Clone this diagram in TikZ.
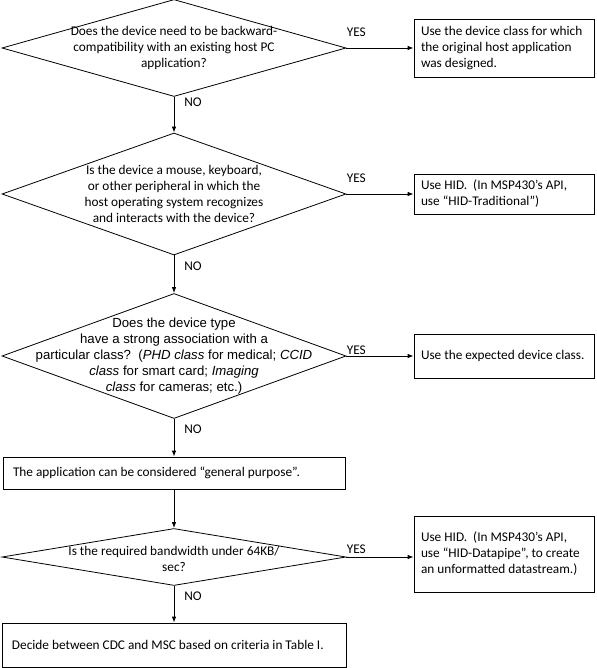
\documentclass[tikz,border=0pt]{standalone}
\usepackage{fontspec}
\setmainfont{Carlito}
\newfontfamily\arialfont{Liberation Sans}
\usetikzlibrary{shapes.geometric,arrows.meta}

\begin{document}
\begin{tikzpicture}[x=1pt,y=-1pt,
    font=\fontsize{13.3}{16}\selectfont,
    decision/.style ={diamond, draw, line width=0.8pt, inner sep=0pt, minimum width=344pt},
    qtext/.style ={align=center, inner sep=0pt},
    outcome/.style ={rectangle, draw, line width=0.8pt, align=flush left, inner xsep=10pt, inner ysep=0pt},
    answer/.style ={outcome, text width=166pt, inner xsep=7pt},
    flow/.style ={-{Latex[length=6pt,width=4.5pt]}, line width=0.8pt},
    yes/.style ={pos=0, anchor=south west, inner sep=0pt},
    no/.style ={pos=0, anchor=north west, inner sep=0pt, xshift=10pt}]
   \useasboundingbox (0,0) rectangle (596,668);
   % questions
   \node[decision, minimum height=97pt, label={[qtext]center:{Does the device need to be backward-\\compatibility with an existing host PC\\application?}}] (D1) at (174,48) {};
   \node[decision, minimum height=122pt, label={[qtext]center:{Is the device a mouse, keyboard,\\or other peripheral in which the\\host operating system recognizes\\and interacts with the device?}}] (D2) at (174,194) {};
   \node[decision, minimum height=125pt, label={[qtext, font={\arialfont\fontsize{13.2}{16}\selectfont}]center:{\arialfont Does the device type\\\arialfont have a strong association with a\\\arialfont particular class?\ \ (\textit{PHD class} for medical; \textit{CCID}\\\arialfont\textit{class} for smart card; \textit{Imaging}\\\arialfont\textit{class} for cameras; etc.)}}] (D3) at (174,356) {};
   \node[decision, minimum height=57pt, label={[qtext, yshift=-2pt]center:{Is the required bandwidth under 64KB/\\sec?}}] (D5) at (174,557) {};
   % answers
   \node[answer, minimum height=58pt] (B1) at (504,48) {Use the device class for which\\the original host application\\was designed.};
   \node[answer, minimum height=40pt] (B2) at (504,194) {Use HID.\ \ (In MSP430’s API,\\use “HID-Traditional”)};
   \node[answer, minimum height=44pt] (B3) at (504,356) {Use the expected device class.};
   \node[outcome, text width=322pt, minimum height=32pt] (B4) at (174,473) {The application can be considered “general purpose”.};
   \node[answer, minimum height=76pt] (B5) at (504,554) {Use HID.\ \ (In MSP430’s API,\\use “HID-Datapipe”, to create\\an unformatted datastream.)};
   \node[outcome, text width=324pt, minimum height=44pt] (B6) at (174,645) {Decide between CDC and MSC based on criteria in Table I.};
   % NO branches
   \draw[flow] (D1) to node[no, yshift=-1pt] {NO} (D2);
   \draw[flow] (D2) to node[no, yshift=-6pt] {NO} (D3);
   \draw[flow] (D3) to node[no, yshift=-6pt] {NO} (B4);
   \draw[flow] (B4) to (D5);
   \draw[flow] (D5) to node[no, yshift=-6pt] {NO} (B6);
   % YES branches
   \draw[flow] (D1.east) to node[yes, yshift=11pt] {YES} (D1.east -| B1.west);
   \draw[flow] (D2.east) to node[yes, yshift=11pt] {YES} (D2.east -| B2.west);
   \draw[flow] (D3.east) to node[yes, yshift=1pt] {YES} (D3.east -| B3.west);
   \draw[flow] (D5.east) to node[yes, yshift=3pt] {YES} (D5.east -| B5.west);
 \end{tikzpicture}
\end{document}
